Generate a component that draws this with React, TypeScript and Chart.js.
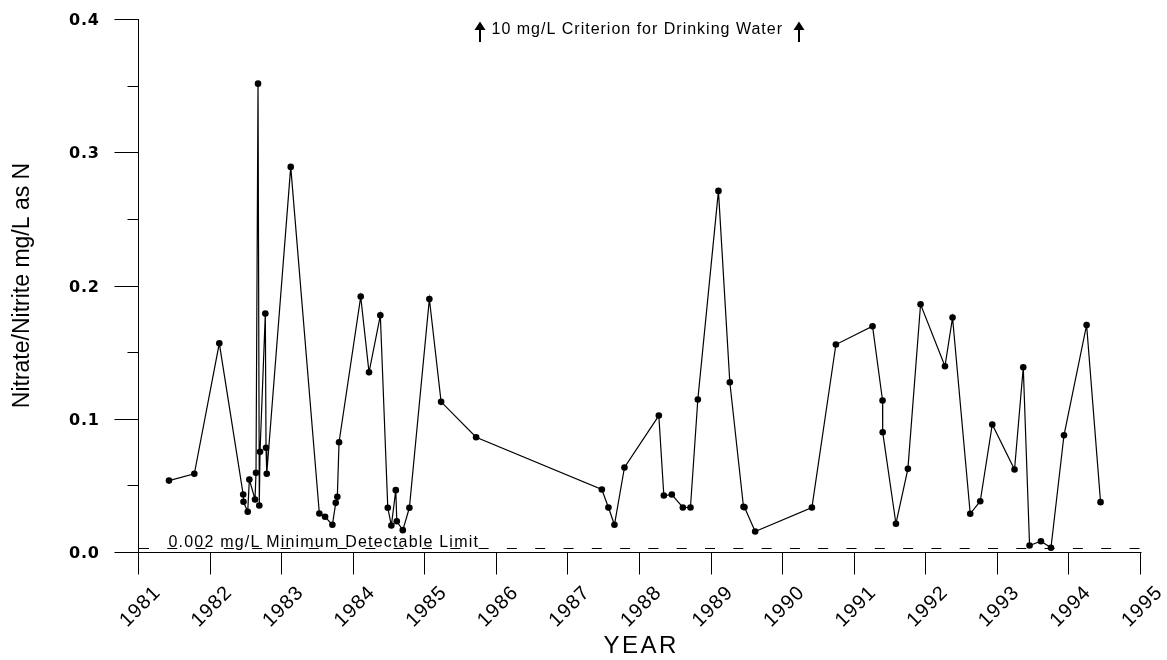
import { useEffect, useRef } from 'react';
import { Chart, registerables } from 'chart.js';

Chart.register(...registerables);

// Sample dates (decimal years)
const years = [
  1981.419, 1981.773, 1982.122, 1982.456, 1982.46, 1982.519, 1982.542, 1982.621, 1982.635, 1982.663,
  1982.681, 1982.691, 1982.765, 1982.775, 1982.785, 1983.12, 1983.52, 1983.6, 1983.702, 1983.749,
  1983.771, 1983.795, 1984.098, 1984.214, 1984.372, 1984.476, 1984.526, 1984.588, 1984.602, 1984.686,
  1984.778, 1985.057, 1985.221, 1985.71, 1987.467, 1987.559, 1987.643, 1987.783, 1988.263, 1988.333,
  1988.445, 1988.599, 1988.705, 1988.808, 1989.096, 1989.255, 1989.446, 1989.46, 1989.609, 1990.402,
  1990.737, 1991.249, 1991.389, 1991.391, 1991.576, 1991.743, 1991.92, 1992.261, 1992.367, 1992.614,
  1992.754, 1992.922, 1993.233, 1993.355, 1993.443, 1993.602, 1993.742, 1993.924, 1994.24, 1994.435,
];

// Nitrate/Nitrite concentration, mg/L as N
const values = [
  0.0536, 0.0587, 0.1566, 0.0431, 0.0377, 0.0302, 0.0544, 0.0394, 0.0594, 0.3515,
  0.0349, 0.0752, 0.1789, 0.0782, 0.0587, 0.289, 0.0289, 0.0264, 0.0204, 0.0369,
  0.0414, 0.0824, 0.1917, 0.1349, 0.1776, 0.0332, 0.0199, 0.0464, 0.0231, 0.0164,
  0.0332, 0.1899, 0.1127, 0.0861, 0.0469, 0.0334, 0.0204, 0.0634, 0.1024, 0.0424,
  0.0431, 0.0334, 0.0334, 0.1144, 0.271, 0.1274, 0.0339, 0.0336, 0.0154, 0.0334,
  0.1557, 0.1694, 0.1137, 0.0899, 0.0212, 0.0624, 0.1859, 0.1394, 0.1759, 0.0287,
  0.0381, 0.0957, 0.0619, 0.1386, 0.0049, 0.0081, 0.0032, 0.0876, 0.1704, 0.0374,
];

const yMajorTicks = [0, 0.1, 0.2, 0.3, 0.4];
const yMinorTicks = [0.05, 0.15, 0.25, 0.35];
const xTickYears = [1981, 1982, 1983, 1984, 1985, 1986, 1987, 1988, 1989, 1990, 1991, 1992, 1993, 1994, 1995];
const detectionLimit = 0.002;

const yTitle = 'Nitrate/Nitrite mg/L as N';
const xTitle = 'YEAR';
const criterionText = '10 mg/L Criterion for Drinking Water';
const limitText = '0.002 mg/L Minimum Detectable Limit';

const SANS = '"Liberation Sans", Arial, sans-serif';

function spacedText(
  ctx: CanvasRenderingContext2D,
  text: string,
  x: number,
  y: number,
  font: string,
  spacing: number,
  align: 'left' | 'center' | 'right',
) {
  ctx.font = font;
  (ctx as any).letterSpacing = spacing + 'px';
  ctx.textAlign = 'left';
  const w = ctx.measureText(text).width - spacing;
  const sx = align === 'center' ? x - w / 2 : align === 'right' ? x - w : x;
  ctx.fillText(text, sx, y);
  (ctx as any).letterSpacing = '0px';
}

function drawArrow(ctx: CanvasRenderingContext2D, x: number, tipY: number, baseY: number) {
  ctx.beginPath();
  ctx.moveTo(x, tipY);
  ctx.lineTo(x - 5.5, tipY + 8.5);
  ctx.lineTo(x + 5.5, tipY + 8.5);
  ctx.closePath();
  ctx.fill();
  ctx.fillRect(x - 1, tipY + 6, 2, baseY - tipY - 6);
}

const decorPlugin = {
  id: 'decor',
  afterDraw(chart: any) {
    const ctx: CanvasRenderingContext2D = chart.ctx;
    const xs = chart.scales.x;
    const ys = chart.scales.y;
    const { left, right, top, bottom } = chart.chartArea;
    ctx.save();
    ctx.strokeStyle = '#000';
    ctx.fillStyle = '#000';
    ctx.lineWidth = 1;

    const axX = Math.round(left) - 0.5;
    const axY = Math.round(ys.getPixelForValue(0)) + 0.5;

    // axis lines
    ctx.beginPath();
    ctx.moveTo(axX, Math.round(top));
    ctx.lineTo(axX, axY);
    ctx.moveTo(axX, axY);
    ctx.lineTo(Math.round(right) + 0.5, axY);
    ctx.stroke();

    // y ticks
    ctx.beginPath();
    yMajorTicks.forEach((v) => {
      const py = Math.round(ys.getPixelForValue(v)) + 0.5;
      ctx.moveTo(axX - 24, py);
      ctx.lineTo(axX, py);
    });
    yMinorTicks.forEach((v) => {
      const py = Math.round(ys.getPixelForValue(v)) + 0.5;
      ctx.moveTo(axX - 11, py);
      ctx.lineTo(axX, py);
    });
    // x ticks
    xTickYears.forEach((yr) => {
      const px = Math.round(xs.getPixelForValue(yr)) - 0.5;
      ctx.moveTo(px, axY);
      ctx.lineTo(px, axY + 22);
    });
    ctx.stroke();

    // detection limit dashed line
    const dy = Math.round(ys.getPixelForValue(detectionLimit)) - 0.5;
    ctx.save();
    ctx.setLineDash([10, 18.3]);
    ctx.beginPath();
    ctx.moveTo(left, dy);
    ctx.lineTo(right, dy);
    ctx.stroke();
    ctx.restore();

    // y tick labels
    ctx.textBaseline = 'alphabetic';
    yMajorTicks.forEach((v) => {
      const py = ys.getPixelForValue(v);
      spacedText(ctx, v.toFixed(1), 99, py + 6, 'bold 16px "DejaVu Sans", sans-serif', 0.8, 'right');
    });

    // x tick labels (rotated, centered on tick)
    xTickYears.forEach((yr) => {
      const px = xs.getPixelForValue(yr);
      ctx.save();
      ctx.translate(px, 606);
      ctx.rotate(-Math.PI / 4);
      spacedText(ctx, String(yr), 0, 7, '20px ' + SANS, 1, 'center');
      ctx.restore();
    });

    // axis titles
    spacedText(ctx, xTitle, (left + right) / 2, 653, '24px ' + SANS, 2.5, 'center');
    ctx.save();
    ctx.translate(29, (top + bottom) / 2);
    ctx.rotate(-Math.PI / 2);
    spacedText(ctx, yTitle, 0, 0, '23px ' + SANS, 0, 'center');
    ctx.restore();

    // annotations
    spacedText(ctx, criterionText, 491.5, 33.5, '16px ' + SANS, 1, 'left');
    drawArrow(ctx, 480, 21.5, 42);
    drawArrow(ctx, 799, 21.5, 42);
    spacedText(ctx, limitText, 168.5, 546.5, '16px ' + SANS, 1.2, 'left');

    ctx.restore();
  },
};

export default function App() {
  const canvasRef = useRef<HTMLCanvasElement | null>(null);

  useEffect(() => {
    const canvas = canvasRef.current;
    if (!canvas) return;
    const chart = new Chart(canvas, {
      type: 'line',
      data: {
        datasets: [
          {
            data: years.map((x, i) => ({ x, y: values[i] })),
            borderColor: '#000',
            borderWidth: 1.2,
            pointRadius: 3.3,
            pointHoverRadius: 3.3,
            pointBackgroundColor: '#000',
            pointBorderColor: '#000',
            pointBorderWidth: 0,
            tension: 0,
            fill: false,
          },
        ],
      },
      options: {
        animation: false,
        responsive: false,
        maintainAspectRatio: false,
        events: [],
        layout: { padding: { top: 19, right: 26, left: 0, bottom: 0 } },
        plugins: {
          legend: { display: false },
          tooltip: { enabled: false },
          title: { display: false },
        },
        scales: {
          x: {
            type: 'linear',
            min: 1981,
            max: 1995,
            ticks: { display: false, stepSize: 1 },
            grid: { display: false },
            border: { display: false },
            afterFit: (s: any) => {
              s.height = 108;
            },
          },
          y: {
            type: 'linear',
            min: 0,
            max: 0.4,
            ticks: { display: false, stepSize: 0.1 },
            grid: { display: false },
            border: { display: false },
            afterFit: (s: any) => {
              s.width = 139;
            },
          },
        },
      },
      plugins: [decorPlugin],
    });
    return () => chart.destroy();
  }, []);

  return (
    <div style={{ position: 'absolute', left: 0, top: 0, width: 1167, height: 660, background: '#fff' }}>
      <canvas ref={canvasRef} width={1167} height={660} style={{ display: 'block', width: 1167, height: 660 }} />
    </div>
  );
}
